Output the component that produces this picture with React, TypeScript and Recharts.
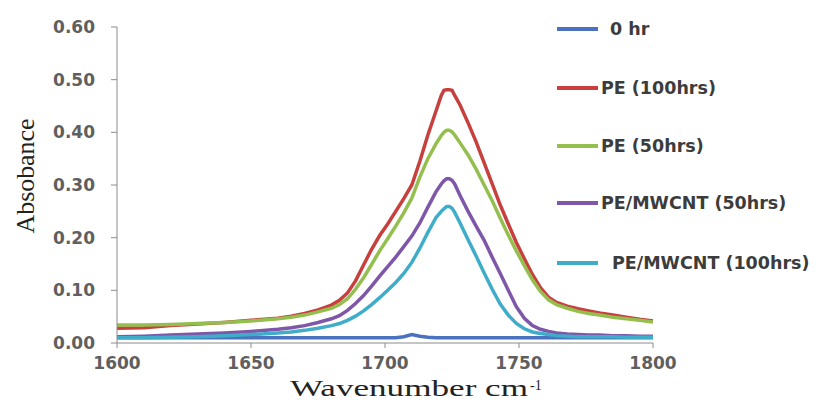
import React from 'react';
import { LineChart, Line, XAxis, YAxis } from 'recharts';

const wavenumbers = [1600,1610,1620,1630,1640,1650,1660,1665,1670,1675,1680,1683,1686,1689,1692,1695,1698,1701,1704,1707,1710,1713,1716,1719,1721,1722,1723,1724,1725,1726,1728,1731,1734,1737,1740,1743,1746,1749,1752,1755,1758,1761,1764,1768,1772,1776,1780,1785,1790,1795,1800];

const hr0 = [0.010,0.010,0.010,0.010,0.010,0.010,0.010,0.010,0.010,0.010,0.010,0.010,0.010,0.010,0.010,0.010,0.010,0.010,0.010,0.012,0.016,0.013,0.011,0.010,0.010,0.010,0.010,0.010,0.010,0.010,0.010,0.010,0.010,0.010,0.010,0.010,0.010,0.010,0.010,0.010,0.010,0.010,0.010,0.010,0.010,0.010,0.010,0.010,0.010,0.010,0.010];

const pe100 = [0.028,0.029,0.033,0.036,0.039,0.043,0.047,0.051,0.056,0.063,0.072,0.081,0.095,0.118,0.148,0.178,0.204,0.226,0.250,0.274,0.300,0.345,0.395,0.440,0.470,0.480,0.481,0.481,0.480,0.470,0.452,0.418,0.382,0.342,0.302,0.262,0.226,0.191,0.160,0.130,0.105,0.087,0.077,0.070,0.065,0.061,0.057,0.053,0.049,0.045,0.042];

const pe50 = [0.034,0.034,0.035,0.037,0.039,0.042,0.046,0.049,0.053,0.059,0.066,0.073,0.084,0.102,0.124,0.149,0.175,0.198,0.222,0.247,0.275,0.315,0.350,0.378,0.394,0.400,0.404,0.404,0.401,0.395,0.380,0.357,0.330,0.300,0.270,0.237,0.205,0.175,0.147,0.120,0.098,0.082,0.073,0.066,0.060,0.056,0.053,0.049,0.046,0.043,0.040];

const cnt50 = [0.012,0.013,0.015,0.017,0.019,0.022,0.026,0.029,0.033,0.039,0.046,0.052,0.062,0.075,0.090,0.108,0.127,0.145,0.163,0.183,0.203,0.228,0.258,0.287,0.302,0.308,0.312,0.312,0.309,0.302,0.280,0.250,0.222,0.195,0.163,0.132,0.100,0.069,0.047,0.033,0.026,0.022,0.019,0.017,0.016,0.015,0.015,0.014,0.014,0.013,0.013];

const cnt100 = [0.010,0.010,0.011,0.012,0.014,0.016,0.019,0.021,0.024,0.028,0.033,0.037,0.043,0.051,0.061,0.073,0.086,0.100,0.115,0.132,0.153,0.180,0.210,0.238,0.250,0.255,0.259,0.259,0.256,0.248,0.228,0.196,0.165,0.133,0.102,0.074,0.053,0.037,0.027,0.021,0.018,0.016,0.014,0.013,0.012,0.012,0.012,0.012,0.011,0.011,0.011];

const seriesNames = ['0 hr', 'PE (100hrs)', 'PE (50hrs)', 'PE/MWCNT (50hrs)', 'PE/MWCNT (100hrs)'];
const seriesKeys = ['hr0', 'pe100', 'pe50', 'cnt50', 'cnt100'];
const seriesColors = ['#4A72BE', '#C8403E', '#94BF4E', '#7E57A8', '#3FADC9'];

const xTicks = [1600, 1650, 1700, 1750, 1800];
const yTicks = [0, 0.1, 0.2, 0.3, 0.4, 0.5, 0.6];

const data = wavenumbers.map((w, i) => ({
  w,
  hr0: hr0[i],
  pe100: pe100[i],
  pe50: pe50[i],
  cnt50: cnt50[i],
  cnt100: cnt100[i],
}));

const tickStyle = { fontFamily: 'DejaVu Sans', fontWeight: 'bold', fontSize: 17, fill: '#5f5f5f' };

const legendY = [29, 88, 146, 203, 263];
const legendTextX = [610, 601, 601, 601, 612];

const LegendOverlay = () => (
  <div style={{ position: 'absolute', left: 0, top: 0, width: 821, height: 401, pointerEvents: 'none' }}>
    {seriesKeys.map((k, i) => (
      <div key={k}>
        <div style={{ position: 'absolute', left: 557, top: legendY[i] - 2, width: 41, height: 4, background: seriesColors[i] }} />
        <div style={{ position: 'absolute', left: legendTextX[i], top: legendY[i] - 12, height: 24, lineHeight: '24px', fontFamily: 'DejaVu Sans', fontWeight: 'bold', fontSize: 17.5, color: '#3c3c3c', whiteSpace: 'nowrap' }}>{seriesNames[i]}</div>
      </div>
    ))}
  </div>
);

const YLabel = (props: any) => {
  const vb = props.viewBox || { x: 0, y: 27, width: 117, height: 316 };
  const x = vb.x + 34;
  const y = vb.y + vb.height / 2 - 9;
  return (
    <text x={x} y={y} transform={`rotate(-90, ${x}, ${y})`} textAnchor="middle" fontFamily="Liberation Serif" fontSize={25} fill="#222" textLength={115} lengthAdjust="spacingAndGlyphs">Absobance</text>
  );
};

const XLabel = (props: any) => {
  const vb = props.viewBox || { x: 117, y: 343, width: 536, height: 30 };
  const start = vb.x + vb.width / 2 - 95;
  const base = vb.y + 53;
  return (
    <g>
      <text x={start} y={base} fontFamily="Liberation Serif" fontSize={23} fill="#222" textLength={238} lengthAdjust="spacingAndGlyphs">Wavenumber cm</text>
      <text x={start + 240} y={base - 6} fontFamily="Liberation Serif" fontSize={14} fill="#222">-1</text>
    </g>
  );
};

export default function App() {
  return (
    <div style={{ position: 'absolute', left: 0, top: 0, width: 821, height: 401, background: '#fff' }}>
      <LineChart width={821} height={401} data={data} margin={{ top: 27, right: 168, bottom: 28, left: 0 }}>
        <XAxis
          dataKey="w"
          type="number"
          domain={[1600, 1800]}
          ticks={xTicks}
          tick={tickStyle}
          tickSize={5}
          tickMargin={9}
          height={30}
          axisLine={{ stroke: '#8c8c8c' }}
          tickLine={{ stroke: '#8c8c8c' }}
          label={<XLabel />}
        />
        <YAxis
          type="number"
          domain={[0, 0.6]}
          ticks={yTicks}
          tickFormatter={(v: number) => v.toFixed(2)}
          tick={tickStyle}
          tickSize={6}
          tickMargin={16}
          width={117}
          axisLine={{ stroke: '#8c8c8c' }}
          tickLine={{ stroke: '#8c8c8c' }}
          label={<YLabel />}
        />
        {seriesKeys.map((k, i) => (
          <Line
            key={k}
            dataKey={k}
            name={seriesNames[i]}
            stroke={seriesColors[i]}
            strokeWidth={3.5}
            dot={false}
            type="linear"
            isAnimationActive={false}
          />
        ))}
      </LineChart>
      <LegendOverlay />
    </div>
  );
}
